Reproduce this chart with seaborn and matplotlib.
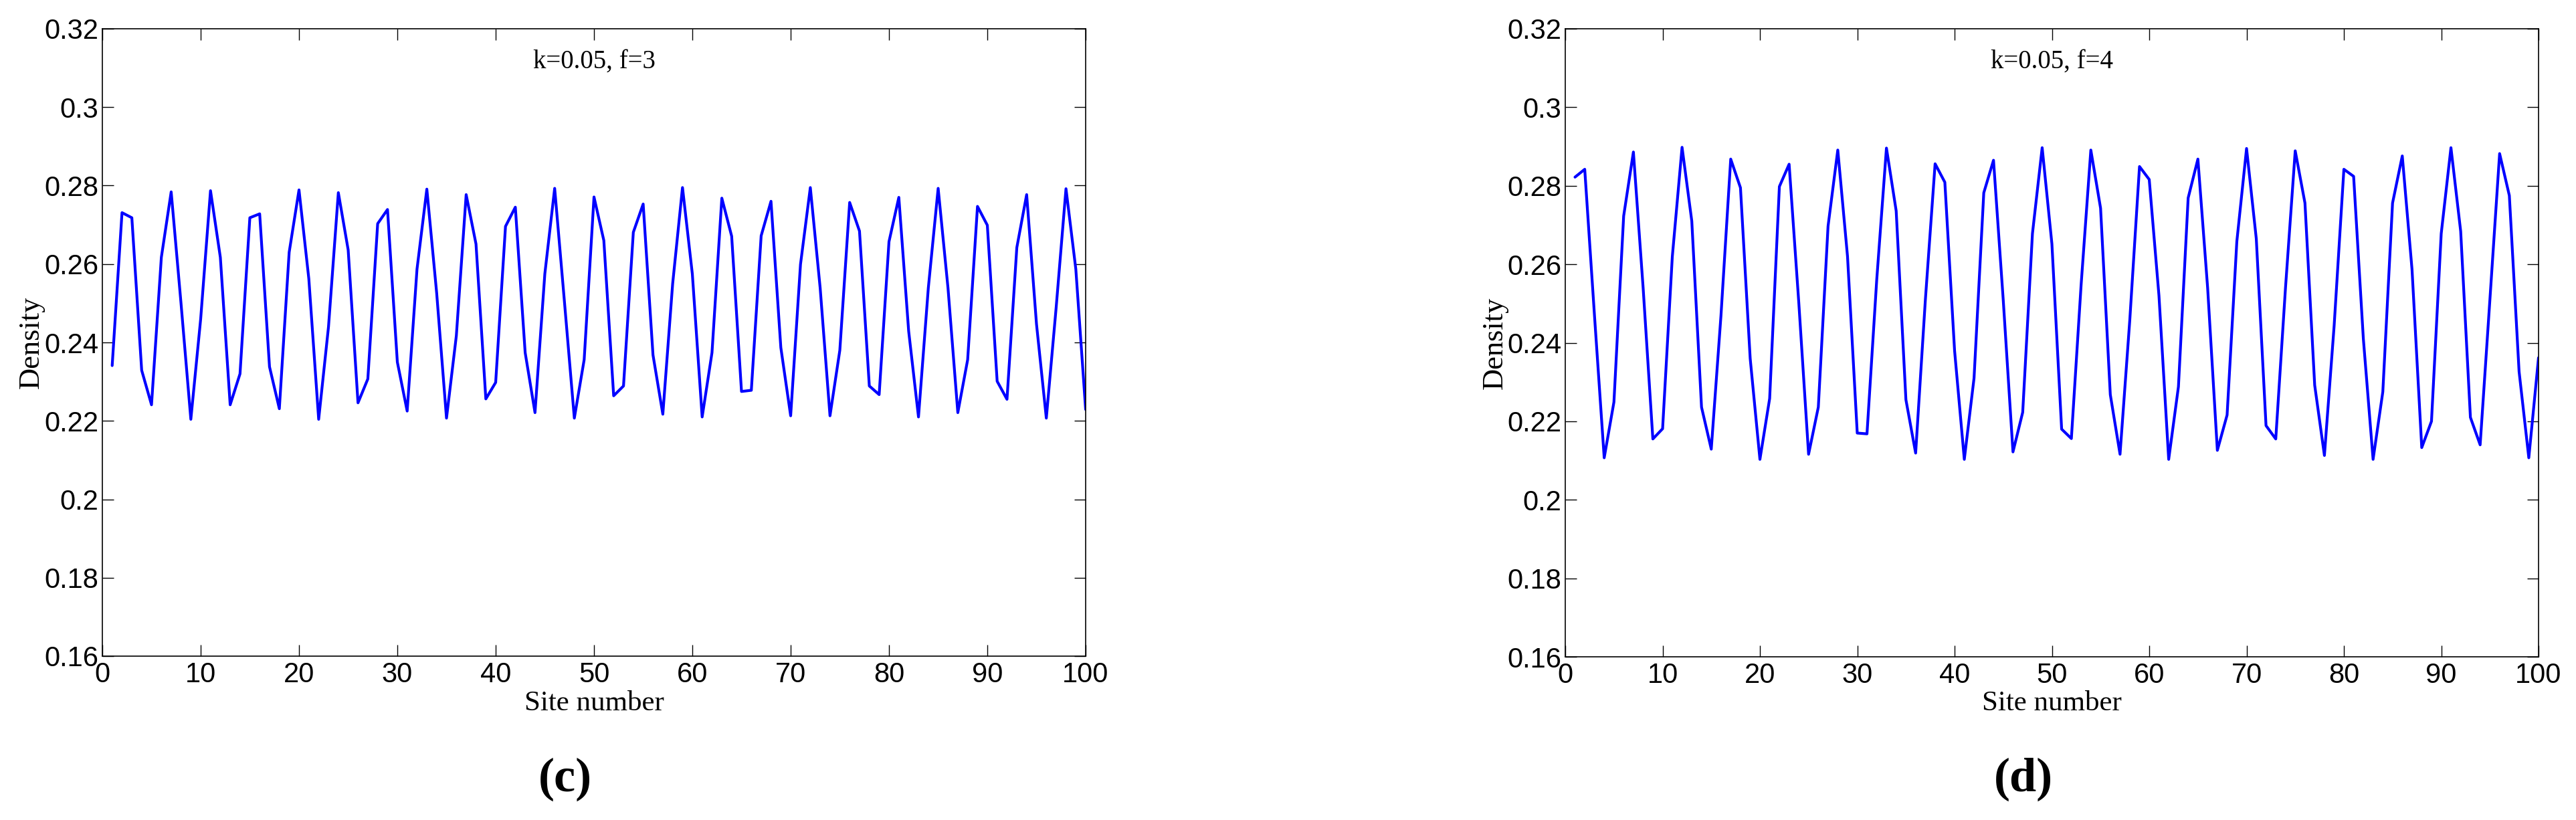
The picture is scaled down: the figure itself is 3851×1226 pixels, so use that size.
import numpy as np
import pandas as pd
import matplotlib
matplotlib.use("Agg")
import matplotlib.pyplot as plt
import seaborn as sns
from matplotlib.ticker import FixedLocator, FuncFormatter

# ---------------- data ----------------
sites = list(range(1, 101))

density_f3 = [
    0.2341, 0.2731, 0.2718, 0.2329, 0.2241, 0.2617, 0.2784, 0.2500, 0.2204, 0.2460,
    0.2787, 0.2617, 0.2241, 0.2320, 0.2718, 0.2728, 0.2338, 0.2231, 0.2630, 0.2789,
    0.2562, 0.2204, 0.2440, 0.2782, 0.2636, 0.2246, 0.2307, 0.2703, 0.2739, 0.2350,
    0.2225, 0.2587, 0.2791, 0.2526, 0.2207, 0.2417, 0.2777, 0.2651, 0.2256, 0.2298,
    0.2696, 0.2745, 0.2374, 0.2221, 0.2575, 0.2793, 0.2502, 0.2207, 0.2356, 0.2771,
    0.2660, 0.2264, 0.2289, 0.2681, 0.2753, 0.2368, 0.2217, 0.2550, 0.2795, 0.2575,
    0.2210, 0.2374, 0.2768, 0.2671, 0.2275, 0.2278, 0.2672, 0.2760, 0.2387, 0.2213,
    0.2599, 0.2795, 0.2539, 0.2213, 0.2380, 0.2757, 0.2684, 0.2289, 0.2267, 0.2657,
    0.2770, 0.2429, 0.2210, 0.2539, 0.2793, 0.2539, 0.2221, 0.2356, 0.2747, 0.2699,
    0.2301, 0.2255, 0.2642, 0.2777, 0.2447, 0.2207, 0.2489, 0.2792, 0.2587, 0.2229,
]

density_f4 = [
    0.2822, 0.2842, 0.2470, 0.2107, 0.2249, 0.2723, 0.2886, 0.2540, 0.2155, 0.2181,
    0.2620, 0.2898, 0.2710, 0.2236, 0.2129, 0.2470, 0.2868, 0.2795, 0.2360, 0.2103,
    0.2258, 0.2798, 0.2855, 0.2500, 0.2116, 0.2236, 0.2697, 0.2891, 0.2620, 0.2170,
    0.2168, 0.2560, 0.2896, 0.2736, 0.2255, 0.2119, 0.2510, 0.2856, 0.2809, 0.2380,
    0.2103, 0.2310, 0.2782, 0.2865, 0.2509, 0.2122, 0.2223, 0.2678, 0.2897, 0.2652,
    0.2180, 0.2156, 0.2547, 0.2891, 0.2743, 0.2268, 0.2116, 0.2457, 0.2849, 0.2816,
    0.2520, 0.2103, 0.2288, 0.2769, 0.2868, 0.2540, 0.2126, 0.2216, 0.2658, 0.2895,
    0.2665, 0.2189, 0.2155, 0.2540, 0.2889, 0.2756, 0.2292, 0.2113, 0.2444, 0.2842,
    0.2824, 0.2410, 0.2103, 0.2275, 0.2756, 0.2876, 0.2587, 0.2133, 0.2200, 0.2678,
    0.2897, 0.2684, 0.2210, 0.2140, 0.2509, 0.2882, 0.2775, 0.2327, 0.2107, 0.2362,
]

x_ticks = [0, 10, 20, 30, 40, 50, 60, 70, 80, 90, 100]
y_ticks = [0.16, 0.18, 0.20, 0.22, 0.24, 0.26, 0.28, 0.30, 0.32]
panel_titles = ["k=0.05, f=3", "k=0.05, f=4"]
panel_tags = ["(c)", "(d)"]
x_label = "Site number"
y_label = "Density"

# ---------------- styling ----------------
sns.set_theme(style="white")
plt.rcParams["font.family"] = ["Liberation Serif", "DejaVu Serif"]

W, H = 3851, 1226
DPI = 100
fig = plt.figure(figsize=(W / DPI, H / DPI), dpi=DPI)
fig.patch.set_facecolor("white")

tick_family = ["Liberation Sans Narrow", "Liberation Sans", "DejaVu Sans"]
tick_size = 30
serif = ["Liberation Serif", "DejaVu Serif"]

# axes rectangles in pixel units (left, right, top, bottom)
boxes = [(153, 1623, 43, 981), (2340, 3795, 43, 982)]
ylabel_x = [47, 2235]
tag_x = [845, 3025]
tag_y = 1165

frames = [
    pd.DataFrame({"site": sites, "density": density_f3}),
    pd.DataFrame({"site": sites, "density": density_f4}),
]

def fmt(v, pos):
    return "%g" % round(v, 4)

for i, (l, r, t, b) in enumerate(boxes):
    ax = fig.add_axes([l / W, 1 - b / H, (r - l) / W, (b - t) / H])
    ax.set_facecolor("white")
    sns.lineplot(data=frames[i], x="site", y="density", ax=ax,
                 color="#0000FF", linewidth=3.0, legend=False)
    ax.set_xlim(0, 100)
    ax.set_ylim(0.16, 0.32)
    ax.xaxis.set_major_locator(FixedLocator(x_ticks))
    ax.yaxis.set_major_locator(FixedLocator(y_ticks))
    ax.yaxis.set_major_formatter(FuncFormatter(fmt))
    ax.xaxis.set_major_formatter(FuncFormatter(fmt))
    for sp in ax.spines.values():
        sp.set_visible(True)
        sp.set_color("black")
        sp.set_linewidth(1.2)
    ax.tick_params(axis="both", which="major", direction="in", length=12, width=1.0,
                   color="black", top=True, right=True, bottom=True, left=True)
    ax.tick_params(axis="x", pad=6)
    ax.tick_params(axis="y", pad=4)
    for lab in ax.get_xticklabels() + ax.get_yticklabels():
        lab.set_fontfamily(tick_family)
        lab.set_fontsize(tick_size)
        lab.set_color("black")
    ax.set_xlabel(x_label, fontfamily=serif, fontsize=31, color="black", va="center")
    ax.set_ylabel(y_label, fontfamily=serif, fontsize=32, color="black", va="center")
    ax.xaxis.set_label_coords(0.5, -(1052 - b) / (b - t))
    ax.yaxis.set_label_coords((ylabel_x[i] - l) / (r - l), 0.5)
    ax.grid(False)
    ax.text(0.5, 1 - 49 / (b - t), panel_titles[i], transform=ax.transAxes,
            ha="center", va="center", fontfamily=serif, fontsize=28, color="black")
    fig.text(tag_x[i] / W, 1 - tag_y / H, panel_tags[i], ha="center", va="center",
             fontfamily=serif, fontsize=52, fontweight="bold", color="black")

fig.savefig("out.png", dpi=DPI, facecolor="white")
